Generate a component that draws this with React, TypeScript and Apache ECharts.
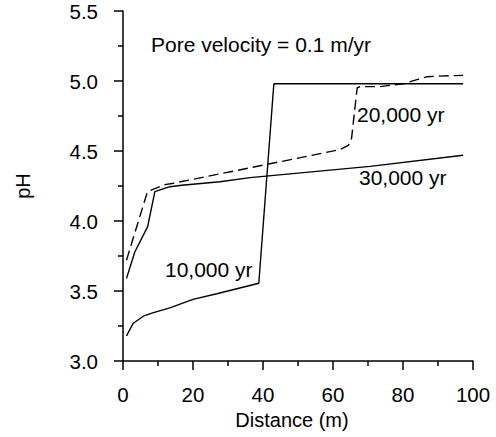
import React, { useEffect, useRef } from "react";
import * as echarts from "echarts";

const distance10k = [1, 2.95, 5.8, 8.7, 13.4, 20, 26.8, 38.8, 43.1, 97.2];
const ph10k = [3.18, 3.27, 3.32, 3.345, 3.38, 3.44, 3.48, 3.555, 4.98, 4.98];

const distance20k = [1, 2.95, 7, 12, 14.4, 36.3, 62, 64.4, 65.3, 66.9, 67.7, 73.4, 80.1, 84, 86.8, 90, 97.2];
const ph20k = [3.72, 3.88, 4.21, 4.26, 4.27, 4.38, 4.51, 4.54, 4.59, 4.95, 4.96, 4.96, 4.98, 5.01, 5.03, 5.035, 5.04];

const distance30k = [1, 3.4, 7.05, 9.1, 13.4, 16.8, 27.7, 36.3, 70.6, 97.2];
const ph30k = [3.59, 3.78, 3.96, 4.21, 4.245, 4.255, 4.28, 4.31, 4.39, 4.47];

const xTicks = { min: 0, max: 100, interval: 20 };
const yTicks = { min: 3.0, max: 5.5, interval: 0.5 };

const annotations = [
  { text: "Pore velocity = 0.1 m/yr", x: 151, y: 44.7 },
  { text: "10,000 yr", x: 165, y: 269.5 },
  { text: "20,000 yr", x: 357, y: 114.5 },
  { text: "30,000 yr", x: 359, y: 177.8 },
];

const FONT = "'Liberation Sans', Arial, Helvetica, sans-serif";

const pairs = (xs: number[], ys: number[]) => xs.map((x, i) => [x, ys[i]]);

export default function App() {
  const ref = useRef<HTMLDivElement>(null);
  useEffect(() => {
    if (!ref.current) return;
    const chart = echarts.init(ref.current, null, { renderer: "svg" });
    const axisCommon = {
      axisLine: { show: true, lineStyle: { color: "#000", width: 1.5 } },
      axisTick: { show: true, inside: false, length: 9, lineStyle: { color: "#000", width: 1.5 } },
      minorTick: { show: true, splitNumber: 2, length: 5, lineStyle: { color: "#000", width: 1.5 } },
      splitLine: { show: false },
      minorSplitLine: { show: false },
      axisLabel: { color: "#000", fontSize: 20.5, fontFamily: FONT },
      nameTextStyle: { color: "#000", fontSize: 20, fontFamily: FONT },
    };
    const lineSeries = (name: string, xs: number[], ys: number[], dashed: boolean) => ({
      name,
      type: "line",
      data: pairs(xs, ys),
      showSymbol: false,
      symbol: "none",
      lineStyle: { color: "#000", width: 1.4, type: dashed ? [10, 5] : "solid" },
      z: 3,
    });
    chart.setOption({
      animation: false,
      backgroundColor: "#fff",
      grid: { left: 123, right: 23, top: 11, bottom: 76, containLabel: false },
      xAxis: {
        type: "value",
        ...xTicks,
        ...axisCommon,
        axisLabel: { ...axisCommon.axisLabel, margin: 23 },
        name: "Distance (m)",
        nameLocation: "middle",
        nameGap: 30,
        nameTextStyle: { ...axisCommon.nameTextStyle, padding: [0, 12, 0, 0] },
      },
      yAxis: {
        type: "value",
        ...yTicks,
        ...axisCommon,
        axisLabel: {
          ...axisCommon.axisLabel,
          margin: 25,
          formatter: (v: number) => v.toFixed(1),
        },
        name: "pH",
        nameLocation: "middle",
        nameRotate: 90,
        nameGap: 90,
      },
      series: [
        lineSeries("10,000 yr", distance10k, ph10k, false),
        lineSeries("20,000 yr", distance20k, ph20k, true),
        lineSeries("30,000 yr", distance30k, ph30k, false),
      ],
      graphic: annotations.map((a) => ({
        type: "text",
        x: a.x,
        y: a.y,
        style: {
          text: a.text,
          fill: "#000",
          fontSize: 21,
          fontFamily: FONT,
          align: "left",
          verticalAlign: "middle",
        },
      })),
    });
    return () => chart.dispose();
  }, []);
  return <div ref={ref} style={{ width: 496, height: 437, position: "absolute", left: 0, top: 0 }} />;
}
